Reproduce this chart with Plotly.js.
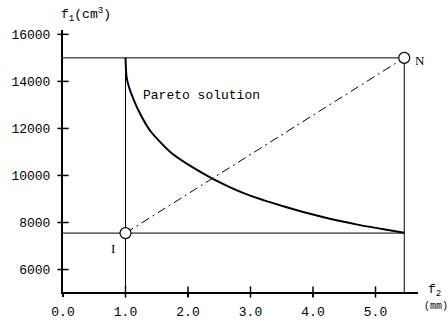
<!DOCTYPE html>
<html>
<head>
<meta charset="utf-8">
<script src="https://cdn.plot.ly/plotly-3.0.1.min.js"></script>
<style>html,body{margin:0;padding:0;background:#fff;}#chart{width:448px;height:321px;}</style>
</head>
<body>
<div id="chart"></div>
<script>
// Pareto front f1 (volume, cm^3) vs f2 (mm)
var paretoF2 = [1.0, 1.016, 1.053, 1.133, 1.24, 1.4, 1.72, 2.09, 2.39, 2.89, 3.55, 4.17, 4.71, 5.13, 5.46];
var paretoF1 = [15000, 14200, 13780, 13204, 12590, 11880, 10990, 10320, 9870, 9250, 8670, 8220, 7910, 7710, 7560];

// Ideal point I and nadir point N
var pointNames = ["I", "N"];
var pointF2 = [1.0, 5.46];
var pointF1 = [7550, 15000];

// axis extents
var xRange = [0, 5.68];
var yRange = [5045, 16185];
var xTicks = [0, 1, 2, 3, 4, 5];
var xTickText = ["0.0", "1.0", "2.0", "3.0", "4.0", "5.0"];
var yTicks = [6000, 8000, 10000, 12000, 14000, 16000];
var yTickText = ["6000", "8000", "10000", "12000", "14000", "16000"];

var font = "Liberation Mono, Courier New, monospace";
var thin = {color: "#000", width: 1};

var traces = [
  {x: [xRange[0], pointF2[1]], y: [pointF1[1], pointF1[1]], mode: "lines", line: thin, hoverinfo: "skip"},
  {x: [xRange[0], pointF2[1]], y: [pointF1[0], pointF1[0]], mode: "lines", line: thin, hoverinfo: "skip"},
  {x: [pointF2[0], pointF2[0]], y: [yRange[0], pointF1[1]], mode: "lines", line: thin, hoverinfo: "skip"},
  {x: [pointF2[1], pointF2[1]], y: [yRange[0], pointF1[1]], mode: "lines", line: thin, hoverinfo: "skip"},
  {x: pointF2, y: pointF1, mode: "lines", line: {color: "#000", width: 1, dash: "9px,4px,2px,4px"}, hoverinfo: "skip"},
  {x: paretoF2, y: paretoF1, mode: "lines", line: {color: "#000", width: 2, shape: "spline", smoothing: 0.6}},
  {x: pointF2, y: pointF1, mode: "markers", marker: {size: 11, color: "#fff", line: {color: "#000", width: 1.2}}},
  // crossing tick marks on both axes
  {x: xTicks.slice(1), y: xTicks.slice(1).map(function(){return yRange[0];}), mode: "markers", cliponaxis: false,
   marker: {symbol: "line-ns-open", size: 8, color: "#000", line: {color: "#000", width: 1.5}}, hoverinfo: "skip"},
  {x: yTicks.map(function(){return xRange[0];}), y: yTicks, mode: "markers", cliponaxis: false,
   marker: {symbol: "line-ew-open", size: 8, color: "#000", line: {color: "#000", width: 1.5}}, hoverinfo: "skip"}
];

var axisCommon = {
  showgrid: false, zeroline: false, showline: true, linecolor: "#000", linewidth: 2,
  ticks: "outside", ticklen: 3, tickwidth: 1.5, tickcolor: "#000",
  tickfont: {family: font, size: 13, color: "#000"}
};

var layout = {
  width: 448, height: 321,
  margin: {l: 63, r: 30, t: 30, b: 29},
  paper_bgcolor: "#fff", plot_bgcolor: "#fff",
  showlegend: false,
  xaxis: Object.assign({}, axisCommon, {range: xRange, tickvals: xTicks, ticktext: xTickText, ticklabelstandoff: 3}),
  yaxis: Object.assign({}, axisCommon, {range: yRange, tickvals: yTicks, ticktext: yTickText, ticklabelstandoff: 5}),
  annotations: [
    {xref: "paper", yref: "paper", x: 0, y: 1, xshift: -4, yshift: 16, xanchor: "left", yanchor: "middle", showarrow: false,
     text: "f<sub>1</sub>(cm<sup>3</sup>)", font: {family: font, size: 13, color: "#000"}},
    {xref: "paper", yref: "paper", x: 1, y: 0, xshift: 8, yshift: 2, xanchor: "left", yanchor: "middle", showarrow: false,
     text: "f<sub>2</sub>", font: {family: font, size: 13, color: "#000"}},
    {xref: "paper", yref: "paper", x: 1, y: 0, xshift: 4, yshift: -14, xanchor: "left", yanchor: "middle", showarrow: false,
     text: "(mm)", font: {family: font, size: 10, color: "#000"}},
    {x: 1.24, y: 13400, xanchor: "left", yanchor: "middle", showarrow: false,
     text: "Pareto solution", font: {family: font, size: 13, color: "#000"}},
    {x: pointF2[1], y: pointF1[1], xshift: 9, yshift: -3, xanchor: "left", yanchor: "middle", showarrow: false,
     text: pointNames[1], font: {family: "Liberation Serif, serif", size: 13, color: "#000"}},
    {x: pointF2[0], y: pointF1[0], xshift: -13, yshift: -15, xanchor: "center", yanchor: "middle", showarrow: false,
     text: pointNames[0], font: {family: "Liberation Serif, serif", size: 13, color: "#000"}}
  ]
};

Plotly.newPlot("chart", traces, layout, {staticPlot: true, displayModeBar: false});
</script>
</body>
</html>
